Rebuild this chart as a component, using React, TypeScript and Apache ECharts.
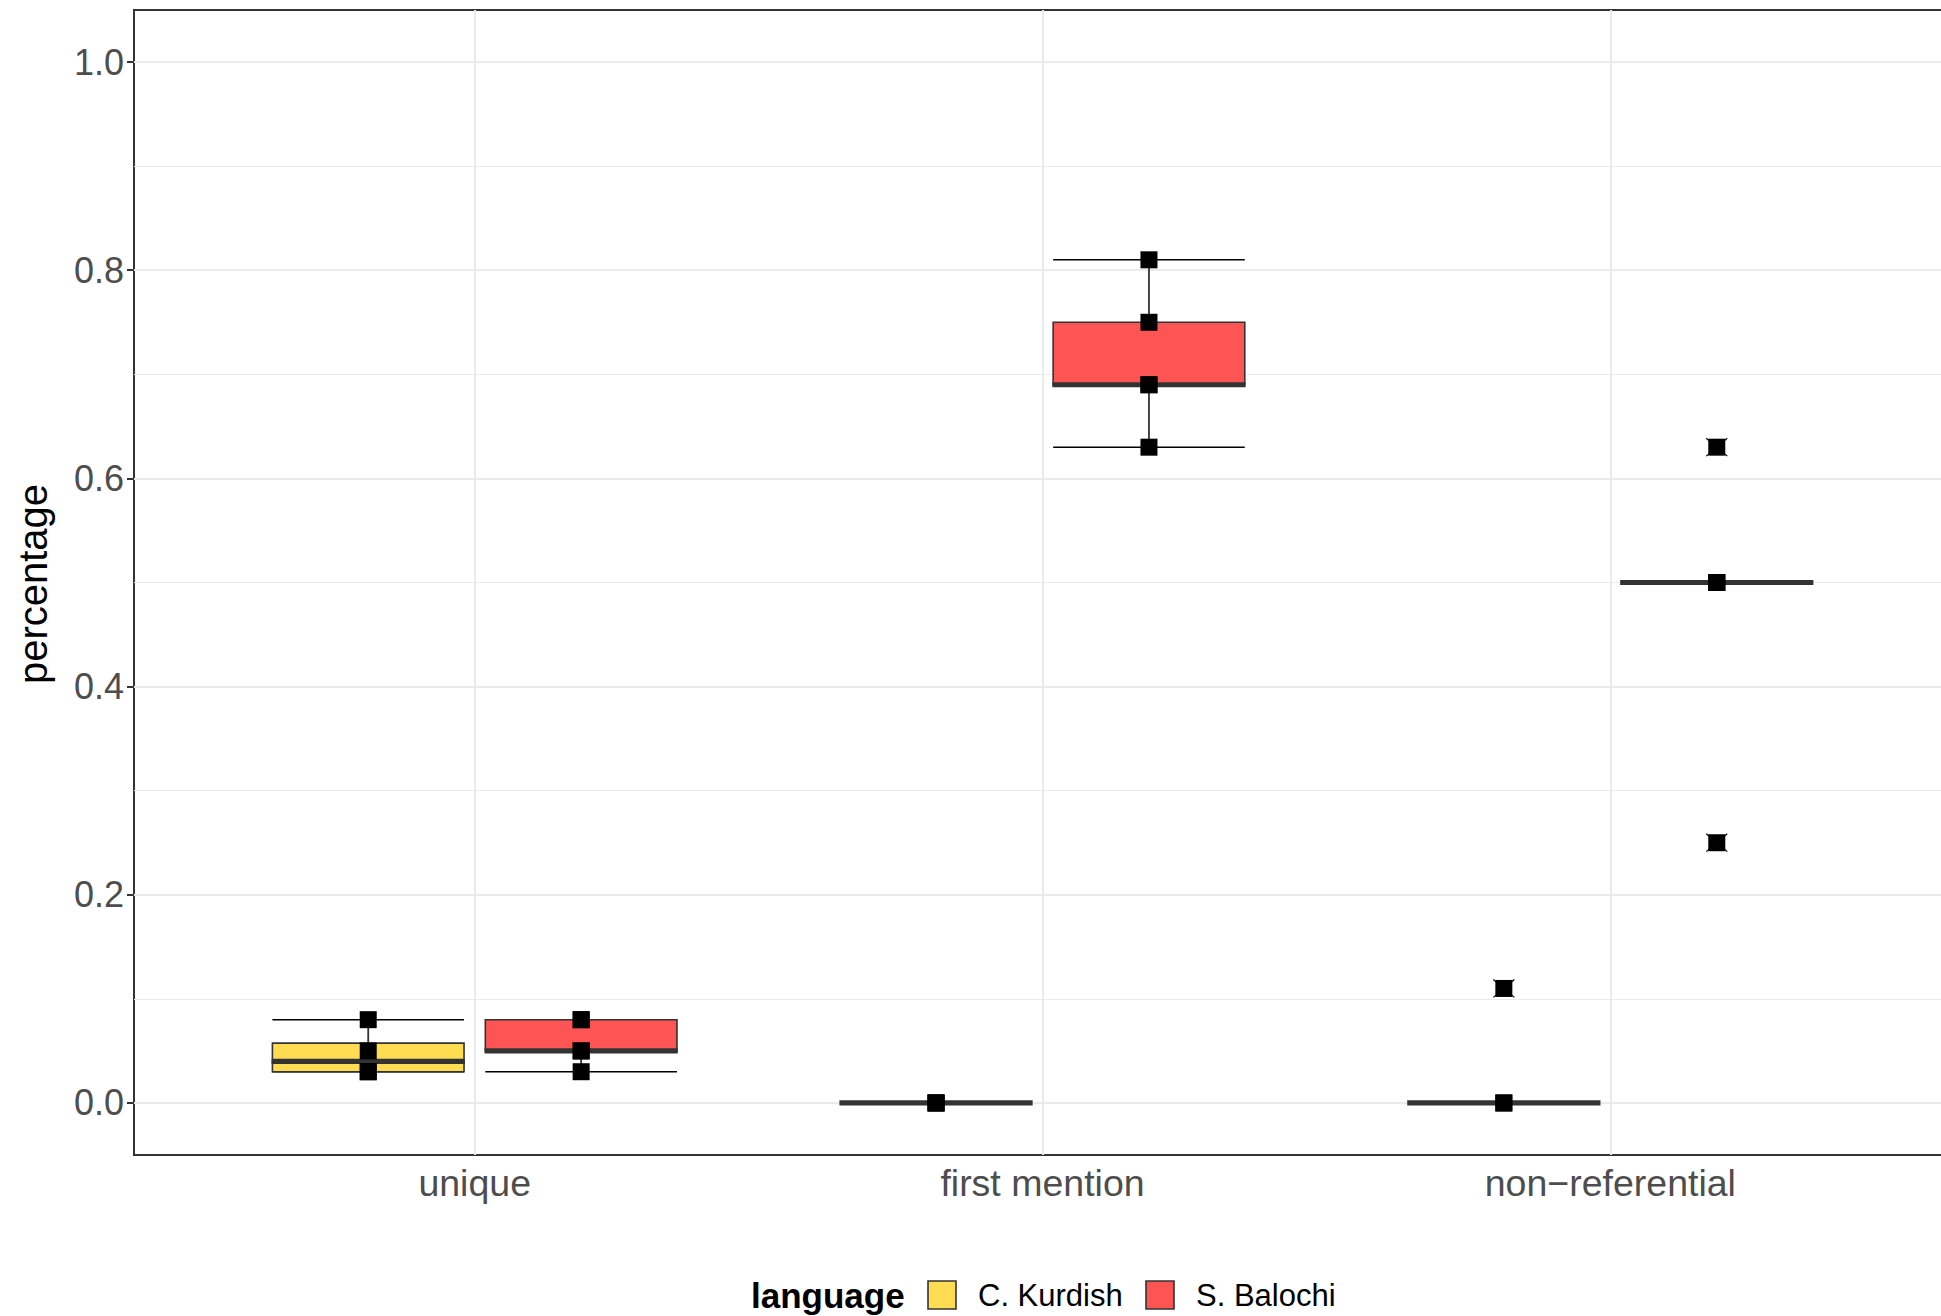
import React, { useEffect, useRef } from 'react';
import * as echarts from 'echarts';

// ---- data ----
const categories = ['unique', 'first mention', 'non\u2212referential'];
const languages = ['C. Kurdish', 'S. Balochi'];
const fills = ['#FFDC52', '#FF5454'];
// box statistics per category: [lower whisker, Q1, median, Q3, upper whisker]
const kurdishStats = [
  [0.03, 0.03, 0.04, 0.0575, 0.08],
  [0, 0, 0, 0, 0],
  [0, 0, 0, 0, 0],
];
const balochiStats = [
  [0.03, 0.05, 0.05, 0.08, 0.08],
  [0.63, 0.69, 0.69, 0.75, 0.81],
  [0.5, 0.5, 0.5, 0.5, 0.5],
];
// observed points per category
const kurdishPoints = [[0.08, 0.05, 0.03, 0.03], [0, 0, 0], [0.11, 0, 0]];
const balochiPoints = [[0.08, 0.08, 0.05, 0.05, 0.03], [0.81, 0.75, 0.69, 0.69, 0.63], [0.63, 0.5, 0.5, 0.5, 0.25]];
// outliers per category
const kurdishOutliers = [[], [], [0.11]];
const balochiOutliers = [[], [], [0.63, 0.25]];
const yTicks = [0, 0.2, 0.4, 0.6, 0.8, 1.0];
const yMinor = [0.1, 0.3, 0.5, 0.7, 0.9];

const FONT = '"Liberation Sans", Arial, Helvetica, sans-serif';
const DODGE = 0.1875;
const BOX_W = 0.3375;

export default function App() {
  const ref = useRef<HTMLDivElement>(null);
  useEffect(() => {
    if (!ref.current) return;
    const chart = echarts.init(ref.current, undefined, { renderer: 'svg' });
    const statsAll = [kurdishStats, balochiStats];
    const ptsAll = [kurdishPoints, balochiPoints];
    const outAll = [kurdishOutliers, balochiOutliers];
    const boxData: number[][] = [];
    const pointData: number[][] = [];
    const outlierData: number[][] = [];
    statsAll.forEach((stats, li) => {
      const off = li === 0 ? -DODGE : DODGE;
      stats.forEach((s, ci) => {
        const x = ci + 1 + off;
        boxData.push([x, ...s, li]);
        ptsAll[li][ci].forEach((v) => pointData.push([x, v]));
        outAll[li][ci].forEach((v) => outlierData.push([x, v]));
      });
    });

    const option: any = {
      animation: false,
      backgroundColor: '#ffffff',
      grid: {
        left: 134,
        top: 10,
        width: 1817,
        bottom: 161,
        show: true,
        borderColor: '#333333',
        borderWidth: 2,
        backgroundColor: '#ffffff',
        outerBoundsMode: 'none',
        containLabel: false,
      },
      xAxis: {
        type: 'value',
        min: 0.4,
        max: 3.6,
        axisLine: { show: false },
        splitLine: { show: false },
        axisTick: {
          show: true,
          customValues: [1, 2, 3],
          length: 7,
          lineStyle: { color: '#333333', width: 2 },
        },
        axisLabel: {
          customValues: [1, 2, 3],
          formatter: (v: number) => categories[Math.round(v) - 1] ?? '',
          fontSize: 37.5,
          fontFamily: FONT,
          color: '#4D4D4D',
          margin: 9,
        },
      },
      yAxis: {
        type: 'value',
        min: -0.05,
        max: 1.05,
        axisLine: { show: false },
        splitLine: { show: false },
        axisTick: {
          show: true,
          customValues: yTicks,
          length: 7,
          lineStyle: { color: '#333333', width: 2 },
        },
        axisLabel: {
          customValues: yTicks,
          formatter: (v: number) => v.toFixed(1),
          fontSize: 36,
          fontFamily: FONT,
          color: '#4D4D4D',
          margin: 10,
        },
      },
      series: [
        {
          type: 'scatter',
          data: [],
          z: 1,
          silent: true,
          markLine: {
            silent: true,
            z: 1,
            symbol: ['none', 'none'],
            label: { show: false },
            animation: false,
            lineStyle: { color: '#EBEBEB', width: 1.2, type: 'solid' },
            data: [
              ...yMinor.map((v) => ({ yAxis: v })),
              ...yTicks.map((v) => ({ yAxis: v, lineStyle: { color: '#EBEBEB', width: 2, type: 'solid' } })),
              ...[1, 2, 3].map((v) => ({ xAxis: v, lineStyle: { color: '#EBEBEB', width: 2, type: 'solid' } })),
            ],
          },
        },
        {
          type: 'custom',
          z: 10,
          data: boxData,
          renderItem: (params: any, api: any) => {
            const x = api.value(0);
            const lo = api.value(1);
            const q1 = api.value(2);
            const med = api.value(3);
            const q3 = api.value(4);
            const hi = api.value(5);
            const li = api.value(6);
            const pL = api.coord([x - BOX_W / 2, med])[0];
            const pR = api.coord([x + BOX_W / 2, med])[0];
            const pC = api.coord([x, med])[0];
            const Y = (v: number) => api.coord([x, v])[1];
            const children: any[] = [
              { type: 'rect', shape: { x: pL, y: Y(hi) - 0.8, width: pR - pL, height: 1.6 }, style: { fill: '#000' } },
              { type: 'rect', shape: { x: pL, y: Y(lo) - 0.8, width: pR - pL, height: 1.6 }, style: { fill: '#000' } },
            ];
            if (hi > q3) {
              children.push({ type: 'rect', shape: { x: pC - 0.9, y: Y(hi), width: 1.8, height: Y(q3) - Y(hi) }, style: { fill: '#333' } });
            }
            if (q1 > lo) {
              children.push({ type: 'rect', shape: { x: pC - 0.9, y: Y(q1), width: 1.8, height: Y(lo) - Y(q1) }, style: { fill: '#333' } });
            }
            if (q3 > q1) {
              children.push({
                type: 'rect',
                shape: { x: pL, y: Y(q3), width: pR - pL, height: Y(q1) - Y(q3) },
                style: { fill: fills[li], stroke: '#333', lineWidth: 1.6 },
              });
            }
            children.push({ type: 'rect', shape: { x: pL - 0.8, y: Y(med) - 2.6, width: pR - pL + 1.6, height: 5.2 }, style: { fill: '#333' } });
            return { type: 'group', children };
          },
        },
        {
          type: 'custom',
          z: 11,
          data: outlierData,
          renderItem: (params: any, api: any) => {
            const p = api.coord([api.value(0), api.value(1)]);
            const s = 10.5;
            return {
              type: 'group',
              children: [
                { type: 'line', shape: { x1: p[0] - s, y1: p[1] - s * 0.85, x2: p[0] + s, y2: p[1] + s * 0.85 }, style: { stroke: '#000', lineWidth: 1.2 } },
                { type: 'line', shape: { x1: p[0] - s, y1: p[1] + s * 0.85, x2: p[0] + s, y2: p[1] - s * 0.85 }, style: { stroke: '#000', lineWidth: 1.2 } },
              ],
            };
          },
        },
        {
          type: 'scatter',
          z: 12,
          data: pointData,
          symbol: 'rect',
          symbolSize: 17,
          itemStyle: { color: '#000000', opacity: 1 },
        },
      ],
      graphic: [
        {
          type: 'text',
          x: 33,
          y: 584,
          rotation: Math.PI / 2,
          style: {
            text: 'percentage',
            fontSize: 40,
            fontFamily: FONT,
            fill: '#000',
            align: 'center',
            verticalAlign: 'middle',
          },
        },
        {
          type: 'text',
          x: 751,
          y: 1295,
          style: { text: 'language', fontSize: 35, fontWeight: 'bold', fontFamily: FONT, fill: '#000', align: 'left', verticalAlign: 'middle' },
        },
        {
          type: 'rect',
          shape: { x: 928, y: 1281, width: 28, height: 28 },
          style: { fill: fills[0], stroke: '#333', lineWidth: 1.6 },
        },
        {
          type: 'text',
          x: 978,
          y: 1295,
          style: { text: languages[0], fontSize: 31, fontFamily: FONT, fill: '#000', align: 'left', verticalAlign: 'middle' },
        },
        {
          type: 'rect',
          shape: { x: 1146, y: 1281, width: 28, height: 28 },
          style: { fill: fills[1], stroke: '#333', lineWidth: 1.6 },
        },
        {
          type: 'text',
          x: 1196,
          y: 1295,
          style: { text: languages[1], fontSize: 31, fontFamily: FONT, fill: '#000', align: 'left', verticalAlign: 'middle' },
        },
      ],
    };
    chart.setOption(option);
    return () => chart.dispose();
  }, []);
  return (
    <div
      ref={ref}
      style={{ position: 'fixed', left: 0, top: 0, width: 1970, height: 1316, background: '#fff' }}
    />
  );
}
